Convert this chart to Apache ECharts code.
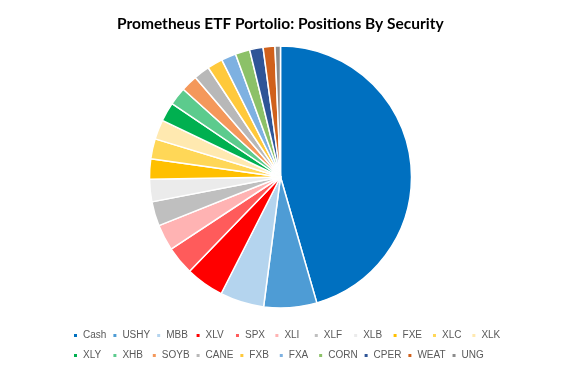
<!DOCTYPE html>
<html>
<head>
<meta charset="utf-8">
<script src="https://cdn.jsdelivr.net/npm/echarts@6/dist/echarts.min.js"></script>
<style>html,body{margin:0;padding:0;background:#fff}#c{width:585px;height:370px}</style>
</head>
<body>
<div id="c"></div>
<script>
const categories = ['Cash','USHY','MBB','XLV','SPX','XLI','XLF','XLB','FXE','XLC','XLK','XLY','XHB','SOYB','CANE','FXB','FXA','CORN','CPER','WEAT','UNG'];
const values = [45.3, 6.5, 5.4, 4.7, 3.5, 3.2, 3.0, 2.75, 2.5, 2.45, 2.4, 2.35, 2.2, 2.05, 1.95, 1.9, 1.8, 1.78, 1.65, 1.45, 0.67];
const colors = ['#0070C0','#4E9CD5','#B4D4EE','#FF0000','#FF5B5B','#FFB3B3','#BFBFBF','#EBEBEB','#FFC000','#FFD757','#FFE9B0','#00B050','#5CCB8D','#F4985B','#B8B8B8','#FFC93B','#7EB1E1','#8CC168','#2F5597','#D0611C','#8C8C8C'];
const titleText = 'Prometheus ETF Portolio: Positions By Security';

const chart = echarts.init(document.getElementById('c'), null, {renderer:'canvas'});
chart.setOption({
  animation: false,
  title: {
    text: titleText,
    left: 112,
    top: 11,
    textStyle: {fontFamily: 'Lato', fontWeight: 'bold', fontSize: 15.5, color: '#000'}
  },
  legend: {
    left: 67,
    top: 323,
    width: 450,
    icon: 'rect',
    itemWidth: 5,
    itemHeight: 5,
    itemGap: 5,
    data: categories,
    textStyle: {fontFamily: 'Liberation Sans', fontSize: 10, color: '#595959', width: 23.4, lineHeight: 15}
  },
  series: [{
    type: 'pie',
    center: [280.5, 177],
    radius: [0, 131],
    startAngle: 90,
    clockwise: true,
    label: {show: false},
    labelLine: {show: false},
    itemStyle: {borderColor: '#fff', borderWidth: 1.5},
    emphasis: {disabled: true},
    data: categories.map((c, i) => ({name: c, value: values[i], itemStyle: {color: colors[i]}}))
  }]
});
</script>
</body>
</html>
